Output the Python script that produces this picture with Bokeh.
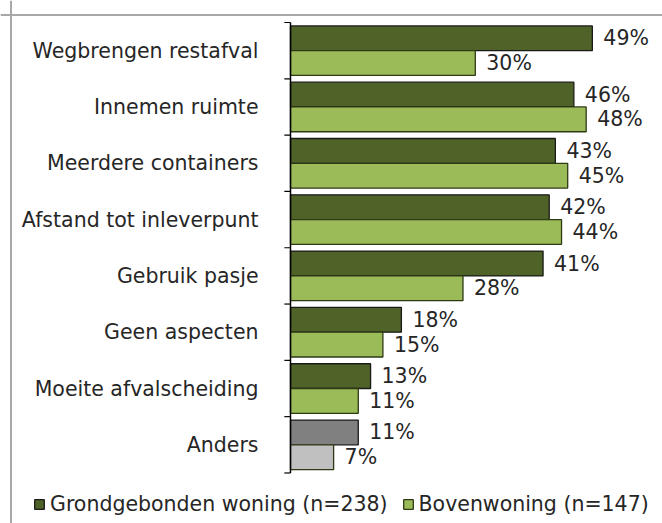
from bokeh.plotting import figure
from bokeh.models import Range1d, Span, Legend, LegendItem, ColumnDataSource
from bokeh.core.properties import value
from bokeh.embed import file_html
from bokeh.resources import INLINE

# ---- data ----
categories = ["Wegbrengen restafval", "Innemen ruimte", "Meerdere containers",
              "Afstand tot inleverpunt", "Gebruik pasje", "Geen aspecten",
              "Moeite afvalscheiding", "Anders"]
grondgebonden = [49, 46, 43, 42, 41, 18, 13, 11]
bovenwoning = [30, 48, 45, 44, 28, 15, 11, 7]
series_names = ["Grondgebonden woning (n=238)", "Bovenwoning (n=147)"]

# ---- layout / style ----
W, H = 662, 523
AXIS_PX = 290.0          # axis x position inside canvas
PX_PER_PCT = 6.16
TOP_PX = 22.0            # y of top category boundary inside canvas
PX_PER_CAT = 56.31
FONT = value("DejaVu Sans")
FS = "20.5px"
TXT = "#262626"

n = len(categories)
centers = [n - 0.5 - i for i in range(n)]
bar_h = 0.44
dark_colors = ["#4f6228"] * (n - 1) + ["#808080"]
light_colors = ["#9bbb59"] * (n - 1) + ["#c0c0c0"]

x0 = -AXIS_PX / PX_PER_PCT
x1 = (W - AXIS_PX) / PX_PER_PCT
y1 = n + TOP_PX / PX_PER_CAT
y0 = n - (H - TOP_PX) / PX_PER_CAT

p = figure(width=W, height=H, output_backend="svg", toolbar_location=None,
           x_range=Range1d(x0, x1), y_range=Range1d(y0, y1),
           x_axis_location=None, y_axis_location=None,
           min_border_left=0, min_border_right=0, min_border_top=0, min_border_bottom=0)
p.grid.visible = False
p.outline_line_color = None
p.background_fill_color = "white"
p.border_fill_color = "white"

src = ColumnDataSource(dict(
    cat=categories,
    yd=[c + bar_h / 2 for c in centers],
    yl=[c - bar_h / 2 for c in centers],
    yc=centers,
    g=grondgebonden, b=bovenwoning,
    gl=[f"{v}%" for v in grondgebonden],
    bl=[f"{v}%" for v in bovenwoning],
    dc=dark_colors, lc=light_colors,
))

r1 = p.hbar(y="yd", left=0, right="g", height=bar_h, source=src,
            fill_color="dc", line_color="#1a1a1a", line_width=1.3)
r2 = p.hbar(y="yl", left=0, right="b", height=bar_h, source=src,
            fill_color="lc", line_color="#2e3a14", line_width=1.3)

p.text(x="g", y="yd", text="gl", source=src, x_offset=11, text_baseline="middle",
       text_align="left", text_font=FONT, text_font_size=FS, text_color=TXT)
p.text(x="b", y="yl", text="bl", source=src, x_offset=11, text_baseline="middle",
       text_align="left", text_font=FONT, text_font_size=FS, text_color=TXT)

# category labels
p.text(x=0, y="yc", text="cat", source=src, x_offset=-32, text_baseline="middle",
       text_align="right", text_font=FONT, text_font_size=FS, text_color=TXT)

# axis line + ticks
bounds = list(range(n + 1))
p.segment(x0=[0], y0=[0], x1=[0], y1=[n], line_color="black", line_width=1.5)
p.segment(x0=[-1.0] * len(bounds), y0=bounds, x1=[0] * len(bounds), y1=bounds,
          line_color="black", line_width=1.2)

# frame border (left + top)
left_px, top_px = 10.5, 14.5
p.add_layout(Span(location=x0 + left_px / PX_PER_PCT, dimension="height",
                  line_color="#a8a8a8", line_width=2))
p.add_layout(Span(location=y1 - top_px / PX_PER_CAT, dimension="width",
                  line_color="#a8a8a8", line_width=2))

legend = Legend(items=[LegendItem(label=series_names[0], renderers=[r1], index=0),
                       LegendItem(label=series_names[1], renderers=[r2], index=0)],
                location=(33, 7), orientation="horizontal", padding=0, margin=0,
                spacing=14, label_standoff=5, glyph_width=12, glyph_height=12,
                border_line_color=None, background_fill_alpha=0,
                label_text_font="DejaVu Sans", label_text_font_size=FS,
                label_text_color=TXT)
p.add_layout(legend)

open("out.html", "w").write(file_html(p, INLINE))
